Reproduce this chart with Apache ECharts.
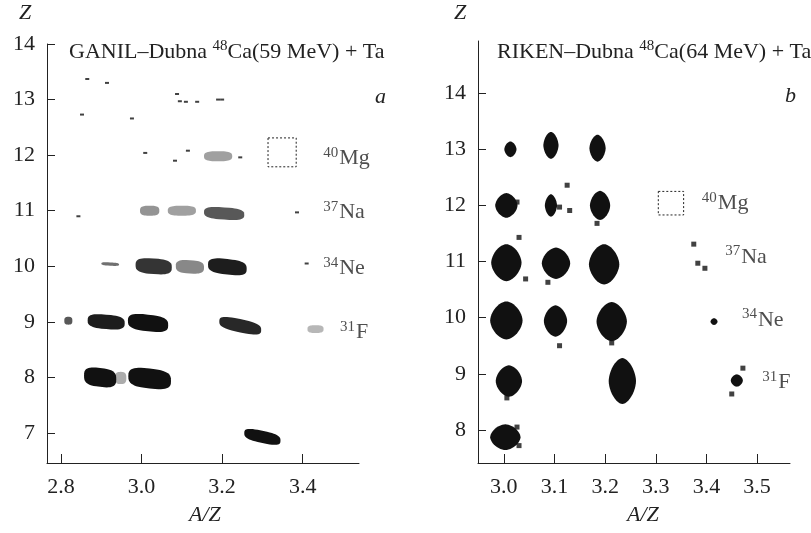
<!DOCTYPE html>
<html>
<head>
<meta charset="utf-8">
<script src="https://cdn.jsdelivr.net/npm/echarts@6/dist/echarts.min.js"></script>
<style>html,body{margin:0;padding:0;background:#fff}#main{width:811px;height:533px}</style>
</head>
<body>
<div id="main"></div>
<script>
// ion clusters: [A/Z, Z, half width (A/Z), half height (Z), tilt dZ/d(A/Z), fill]
var blobsA = [
    [2.897, 8.00, 0.040, 0.17, -0.8, 1.0],
    [2.948, 7.99, 0.014, 0.11, 0, 0.35],
    [3.020, 7.98, 0.053, 0.18, -0.8, 1.0],
    [3.300, 6.93, 0.045, 0.11, -1.5, 1.0],
    [2.818, 9.02, 0.010, 0.07, 0, 0.7],
    [2.912, 9.00, 0.046, 0.13, -0.6, 0.95],
    [3.016, 8.98, 0.050, 0.15, -0.8, 1.0],
    [3.245, 8.93, 0.052, 0.12, -1.5, 0.9],
    [3.432, 8.87, 0.020, 0.07, 0, 0.3],
    [2.922, 10.04, 0.022, 0.03, -0.4, 0.6],
    [3.030, 10.00, 0.045, 0.14, -0.5, 0.85],
    [3.120, 9.99, 0.035, 0.12, -0.4, 0.5],
    [3.213, 9.99, 0.048, 0.14, -0.8, 0.95],
    [3.020, 11.00, 0.024, 0.09, 0, 0.45],
    [3.100, 11.00, 0.035, 0.09, 0, 0.4],
    [3.205, 10.95, 0.050, 0.11, -0.5, 0.7],
    [3.190, 11.98, 0.035, 0.09, 0, 0.4]
];
var dotsA = [
    [2.865, 13.37], [2.914, 13.30], [2.852, 12.73], [2.976, 12.66],
    [3.088, 13.10], [3.095, 12.97], [3.110, 12.96], [3.138, 12.96],
    [3.190, 13.00], [3.200, 13.00], [3.009, 12.04], [3.083, 11.90],
    [3.115, 12.08], [3.245, 11.96], [2.843, 10.90], [3.386, 10.97],
    [3.410, 10.05]
];
var blobsB = [
    [3.013, 13.00, 0.012, 0.14, 0, 1],
    [3.093, 13.07, 0.015, 0.24, 0, 1],
    [3.185, 13.02, 0.016, 0.24, 0, 1],
    [3.005, 12.00, 0.022, 0.22, 0, 1],
    [3.093, 12.00, 0.012, 0.20, 0, 1],
    [3.190, 12.00, 0.020, 0.26, 0, 1],
    [3.005, 10.98, 0.030, 0.33, 0, 1],
    [3.103, 10.97, 0.028, 0.28, 0, 1],
    [3.198, 10.95, 0.030, 0.36, 0, 1],
    [3.005, 9.95, 0.032, 0.34, 0, 1],
    [3.102, 9.94, 0.023, 0.28, 0, 1],
    [3.213, 9.93, 0.030, 0.35, 0, 1],
    [3.010, 8.87, 0.026, 0.28, 0, 1],
    [3.234, 8.87, 0.027, 0.41, 0, 1],
    [3.460, 8.88, 0.012, 0.11, 0, 1],
    [3.003, 7.87, 0.030, 0.23, 0, 1],
    [3.415, 9.93, 0.007, 0.06, 0, 1]
];
var dotsB = [
    [3.125, 12.36], [3.130, 11.91], [3.110, 11.97], [3.184, 11.68],
    [3.043, 10.69], [3.030, 11.43], [3.087, 10.63], [3.375, 11.31],
    [3.383, 10.97], [3.397, 10.88], [3.110, 9.50], [3.213, 9.55],
    [3.472, 9.10], [3.450, 8.64], [3.006, 8.57], [3.026, 12.06],
    [3.026, 8.05], [3.030, 7.72]
];
// expected position of 40Mg: [A/Z, Z, half width, half height]
var boxA = [[3.349, 12.05, 0.035, 0.26]];
var boxB = [[3.330, 12.04, 0.025, 0.21]];
// isotope labels: [A/Z, Z, mass number, element]
var isoA = [[3.451, 11.94, '40', 'Mg'], [3.451, 10.97, '37', 'Na'], [3.451, 9.96, '34', 'Ne'], [3.493, 8.81, '31', 'F']];
var isoB = [[3.391, 12.04, '40', 'Mg'], [3.437, 11.08, '37', 'Na'], [3.470, 9.96, '34', 'Ne'], [3.510, 8.85, '31', 'F']];

var xTicksA = [2.8, 3.0, 3.2, 3.4];
var zTicksA = [7, 8, 9, 10, 11, 12, 13, 14];
var xTicksB = [3.0, 3.1, 3.2, 3.3, 3.4, 3.5];
var zTicksB = [8, 9, 10, 11, 12, 13, 14];

var serif = '"Liberation Serif", "Times New Roman", "DejaVu Serif", serif';
var ink = '#222';

// superellipse outline, n > 2 boxy, n < 2 pointed
function blobRenderer(n) {
    var e = 2 / n;
    return function (params, api) {
        var cx = api.value(0), cy = api.value(1), hw = api.value(2), hh = api.value(3);
        var k = api.value(4), f = api.value(5);
        var pts = [];
        for (var i = 0; i < 48; i++) {
            var t = i / 48 * Math.PI * 2;
            var c = Math.cos(t), s = Math.sin(t);
            var dx = hw * (c < 0 ? -1 : 1) * Math.pow(Math.abs(c), e);
            var dy = hh * (s < 0 ? -1 : 1) * Math.pow(Math.abs(s), e);
            pts.push(api.coord([cx + dx, cy + dy + k * dx]));
        }
        return {type: 'polygon', shape: {points: pts}, style: {fill: '#111', opacity: f}};
    };
}

function boxItem(params, api) {
    var a = api.coord([api.value(0) - api.value(2), api.value(1) + api.value(3)]);
    var b = api.coord([api.value(0) + api.value(2), api.value(1) - api.value(3)]);
    return {type: 'rect', shape: {x: a[0], y: a[1], width: b[0] - a[0], height: b[1] - a[1]},
        style: {fill: 'none', stroke: ink, lineWidth: 1, lineDash: [2, 2]}};
}

function xAx(idx, min, max, ticks) {
    return {
        gridIndex: idx, type: 'value', min: min, max: max,
        axisLine: {show: true, onZero: false, lineStyle: {color: ink, width: 1}},
        axisTick: {show: true, inside: true, length: 9, customValues: ticks, lineStyle: {color: ink}},
        axisLabel: {customValues: ticks, margin: 13, fontFamily: serif, fontSize: 22, color: ink,
            formatter: function (v) { return v.toFixed(1); }},
        splitLine: {show: false}
    };
}
function yAx(idx, min, max, ticks) {
    return {
        gridIndex: idx, type: 'value', min: min, max: max,
        axisLine: {show: true, onZero: false, lineStyle: {color: ink, width: 1}},
        axisTick: {show: true, inside: true, length: 8, customValues: ticks, lineStyle: {color: ink}},
        axisLabel: {customValues: ticks, margin: 12, fontFamily: serif, fontSize: 22, color: ink},
        splitLine: {show: false}
    };
}
function isoSeries(idx, data) {
    return {
        type: 'scatter', xAxisIndex: idx, yAxisIndex: idx, symbolSize: 0, silent: true,
        data: data.map(function (d) { return {value: [d[0], d[1]], mass: d[2], el: d[3]}; }),
        label: {
            show: true, position: 'right', distance: 0,
            formatter: function (p) { return '{s|' + p.data.mass + '}{m|' + p.data.el + '}'; },
            rich: {
                s: {fontFamily: serif, fontSize: 15, color: ink, verticalAlign: 'top', lineHeight: 15, padding: [0, 1, 11, 0]},
                m: {fontFamily: serif, fontSize: 22, color: ink, lineHeight: 26}
            }
        }
    };
}
var titleRich = {s: {fontFamily: serif, fontSize: 15, color: ink, padding: [0, 0, 11, 0]}};
var italic = 'italic 22px "Liberation Serif", "Times New Roman", serif';

var chart = echarts.init(document.getElementById('main'));
chart.setOption({
    animation: false,
    backgroundColor: '#fff',
    title: [
        {text: 'GANIL–Dubna {s|48}Ca(59 MeV) + Ta', left: 64, top: 34,
            textStyle: {fontFamily: serif, fontSize: 22, fontWeight: 'normal', color: ink, rich: titleRich}},
        {text: 'RIKEN–Dubna {s|48}Ca(64 MeV) + Ta', left: 492, top: 34,
            textStyle: {fontFamily: serif, fontSize: 22, fontWeight: 'normal', color: ink, rich: titleRich}}
    ],
    graphic: [
        {type: 'text', left: 19, top: 2, style: {text: 'Z', font: italic, fill: ink}},
        {type: 'text', left: 454, top: 2, style: {text: 'Z', font: italic, fill: ink}},
        {type: 'text', left: 189, top: 504, style: {text: 'A/Z', font: italic, fill: ink}},
        {type: 'text', left: 627, top: 504, style: {text: 'A/Z', font: italic, fill: ink}},
        {type: 'text', left: 375, top: 86, style: {text: 'a', font: italic, fill: ink}},
        {type: 'text', left: 785, top: 85, style: {text: 'b', font: italic, fill: ink}}
    ],
    grid: [
        {left: 47, top: 44, width: 312, height: 419},
        {left: 478, top: 41, width: 312, height: 422}
    ],
    xAxis: [xAx(0, 2.765, 3.54, xTicksA), xAx(1, 2.949, 3.565, xTicksB)],
    yAxis: [yAx(0, 6.46, 14, zTicksA), yAx(1, 7.41, 14.93, zTicksB)],
    series: [
        {type: 'custom', xAxisIndex: 0, yAxisIndex: 0, renderItem: blobRenderer(3), data: blobsA, silent: true},
        {type: 'scatter', xAxisIndex: 0, yAxisIndex: 0, symbol: 'rect', symbolSize: [4, 2],
            itemStyle: {color: '#111'}, data: dotsA, silent: true},
        {type: 'custom', xAxisIndex: 0, yAxisIndex: 0, renderItem: boxItem, data: boxA, silent: true},
        isoSeries(0, isoA),
        {type: 'custom', xAxisIndex: 1, yAxisIndex: 1, renderItem: blobRenderer(1.7), data: blobsB, silent: true},
        {type: 'scatter', xAxisIndex: 1, yAxisIndex: 1, symbol: 'rect', symbolSize: 5,
            itemStyle: {color: '#111'}, data: dotsB, silent: true},
        {type: 'custom', xAxisIndex: 1, yAxisIndex: 1, renderItem: boxItem, data: boxB, silent: true},
        isoSeries(1, isoB)
    ]
});
</script>
</body>
</html>
